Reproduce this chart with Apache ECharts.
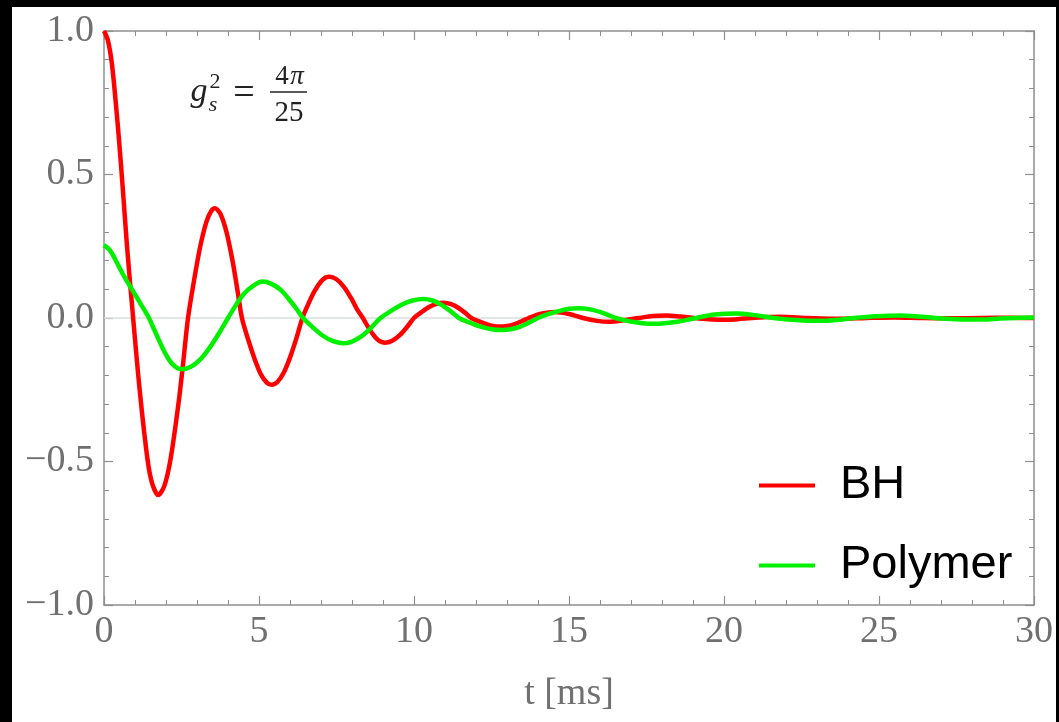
<!DOCTYPE html>
<html>
<head>
<meta charset="utf-8">
<script src="https://cdn.jsdelivr.net/npm/echarts@6/dist/echarts.min.js"></script>
<style>
  html, body { margin: 0; padding: 0; background: #000; width: 1059px; height: 722px; overflow: hidden; }
  #chart { position: absolute; left: 12px; top: 7px; width: 1044px; height: 715px; background: #fff; }
</style>
</head>
<body>
<div id="chart"></div>
<script>
// ---- data (t in ms, value) ----
const seriesNames = ['BH', 'Polymer'];
const bhPoints = [
  [0, 1.0], [0.12, 0.97], [0.25, 0.89], [0.38, 0.75], [0.5, 0.6], [0.62, 0.43], [0.75, 0.24],
  [0.94, 0.0], [1.15, -0.25], [1.4, -0.49], [1.55, -0.575], [1.75, -0.617], [1.95, -0.584],
  [2.15, -0.49], [2.4, -0.30], [2.55, -0.16], [2.71, 0.0], [2.9, 0.128], [3.1, 0.247],
  [3.3, 0.334], [3.45, 0.371], [3.58, 0.382], [3.75, 0.364], [3.95, 0.30], [4.15, 0.197],
  [4.3, 0.10], [4.45, 0.0], [4.65, -0.075], [4.85, -0.14], [5.05, -0.194], [5.25, -0.225],
  [5.41, -0.233], [5.6, -0.222], [5.8, -0.19], [6.0, -0.138], [6.2, -0.073], [6.4, 0.0],
  [6.6, 0.051], [6.8, 0.095], [7.0, 0.127], [7.15, 0.141], [7.27, 0.144], [7.5, 0.135],
  [7.75, 0.107], [8.0, 0.064], [8.15, 0.033], [8.35, 0.0], [8.55, -0.037], [8.75, -0.067],
  [8.9, -0.081], [9.06, -0.086], [9.3, -0.079], [9.55, -0.059], [9.8, -0.028], [10.0, 0.0],
  [10.25, 0.021], [10.5, 0.039], [10.75, 0.05], [10.95, 0.053], [11.2, 0.048], [11.45, 0.034],
  [11.65, 0.018], [11.85, 0.0], [12.1, -0.012], [12.35, -0.022], [12.55, -0.028], [12.77, -0.03],
  [13.0, -0.028], [13.25, -0.021], [13.5, -0.01], [13.7, 0.0], [14.1, 0.015], [14.55, 0.021],
  [15.0, 0.014], [15.45, 0.0], [15.9, -0.01], [16.3, -0.013], [16.75, -0.008], [17.25, 0.0],
  [17.7, 0.007], [18.15, 0.009], [18.6, 0.005], [19.05, 0.0], [19.5, -0.004], [20.0, -0.006],
  [20.45, -0.004], [20.9, 0.0], [21.8, 0.004], [22.7, 0.0], [23.7, -0.003], [24.6, 0.0],
  [25.5, 0.002], [26.4, 0.0], [27.4, -0.001], [28.3, 0.0], [29.2, 0.001], [30, 0.0]
];
const polymerPoints = [
  [0, 0.254], [0.2, 0.235], [0.4, 0.196], [0.65, 0.145], [0.9, 0.1], [1.15, 0.055], [1.3, 0.028],
  [1.45, 0.0], [1.7, -0.06], [1.95, -0.118], [2.2, -0.16], [2.5, -0.179], [2.8, -0.17],
  [3.1, -0.145], [3.4, -0.105], [3.7, -0.055], [4.0, 0.0], [4.25, 0.044], [4.5, 0.083],
  [4.8, 0.111], [5.1, 0.127], [5.4, 0.119], [5.7, 0.098], [6.0, 0.061], [6.2, 0.033],
  [6.42, 0.0], [6.75, -0.034], [7.05, -0.061], [7.35, -0.079], [7.72, -0.088], [8.0, -0.082],
  [8.3, -0.064], [8.6, -0.036], [8.92, 0.0], [9.25, 0.024], [9.6, 0.046], [9.95, 0.061],
  [10.3, 0.066], [10.6, 0.061], [10.9, 0.045], [11.2, 0.022], [11.45, 0.0], [11.8, -0.016],
  [12.15, -0.03], [12.5, -0.039], [12.85, -0.042], [13.15, -0.0385], [13.45, -0.029],
  [13.75, -0.014], [14.0, 0.0], [14.35, 0.014], [14.7, 0.025], [15.0, 0.032], [15.3, 0.034],
  [15.65, 0.031], [16.0, 0.021], [16.25, 0.011], [16.5, 0.0], [16.85, -0.009], [17.2, -0.016],
  [17.45, -0.019], [17.7, -0.02], [18.1, -0.018], [18.5, -0.013], [18.8, -0.007], [19.1, 0.0],
  [19.7, 0.012], [20.4, 0.016], [21.0, 0.01], [21.6, 0.0], [22.3, -0.007], [23.1, -0.01],
  [23.6, -0.007], [24.2, 0.0], [24.9, 0.006], [25.7, 0.009], [26.2, 0.006], [26.8, 0.0],
  [27.5, -0.004], [28.3, -0.005], [28.9, -0.002], [29.4, 0.0], [30, 0.002]
];
const xRange = [0, 30];
const yRange = [-1, 1];
const xLabel = 't [ms]';

// ---- chart ----
const chart = echarts.init(document.getElementById('chart'), null, { renderer: 'canvas' });
const frameColor = '#8f8f8f';
const labelColor = '#707070';
const serif = '"Liberation Serif", "DejaVu Serif", serif';
const ink = '#222';

function axisCommon(showLabel) {
  return {
    axisLine: { show: true, onZero: false, lineStyle: { color: frameColor, width: 1.5 } },
    axisTick: { show: true, inside: true, length: 9, lineStyle: { color: frameColor, width: 1.2 } },
    minorTick: { show: true, splitNumber: 5, length: 5, lineStyle: { color: frameColor, width: 1 } },
    splitLine: { show: false },
    axisLabel: { show: showLabel, color: labelColor, fontFamily: serif, fontSize: 38 }
  };
}

function mathText(x, y, text, font) {
  return { type: 'text', x: x, y: y, silent: true,
    style: { text: text, font: font, fill: ink, textAlign: 'center', textVerticalAlign: 'middle' } };
}

const option = {
  backgroundColor: '#fff',
  animation: false,
  grid: { left: 92, top: 24, right: 22, bottom: 117 },
  xAxis: [
    Object.assign({
      type: 'value', position: 'bottom', min: xRange[0], max: xRange[1], interval: 5,
      name: xLabel, nameLocation: 'middle', nameGap: 70,
      nameTextStyle: { color: labelColor, fontFamily: serif, fontSize: 38 }
    }, axisCommon(true), {
      axisLabel: { show: true, color: labelColor, fontFamily: serif, fontSize: 38, margin: 8 }
    }),
    Object.assign({ type: 'value', position: 'top', min: xRange[0], max: xRange[1], interval: 5 }, axisCommon(false))
  ],
  yAxis: [
    Object.assign({ type: 'value', position: 'left', min: yRange[0], max: yRange[1], interval: 0.5 }, axisCommon(true), {
      axisLabel: {
        show: true, color: labelColor, fontFamily: serif, fontSize: 38, margin: 10,
        formatter: v => v.toFixed(1).replace('-', '\u2212')
      }
    }),
    Object.assign({ type: 'value', position: 'right', min: yRange[0], max: yRange[1], interval: 0.5 }, axisCommon(false))
  ],
  legend: {
    orient: 'vertical', left: 742, top: 450,
    icon: 'rect', itemWidth: 56, itemHeight: 4, itemGap: 33,
    textStyle: { color: '#000', fontFamily: '"Liberation Sans", Arial, sans-serif', fontSize: 47, lineHeight: 46, padding: [0, 0, 0, 20] },
    data: seriesNames
  },
  series: [
    {
      name: seriesNames[0], type: 'line', data: bhPoints, smooth: 0.3, showSymbol: false,
      lineStyle: { color: '#ff0000', width: 4.5 }, itemStyle: { color: '#ff0000' },
      markLine: {
        silent: true, symbol: 'none', label: { show: false }, z: 1,
        lineStyle: { color: '#d8dedb', width: 1.5, type: 'solid' },
        data: [{ yAxis: 0 }]
      }
    },
    {
      name: seriesNames[1], type: 'line', data: polymerPoints, smooth: 0.3, showSymbol: false,
      lineStyle: { color: '#00f000', width: 4.5 }, itemStyle: { color: '#00f000' }
    }
  ],
  graphic: [
    mathText(187, 85, 'g', 'italic 34px ' + serif),
    mathText(203, 75, '2', '22px ' + serif),
    mathText(201, 98, 's', 'italic 22px ' + serif),
    mathText(232, 87, '=', '38px ' + serif),
    mathText(270, 70, '4', '27px ' + serif),
    mathText(285, 70, '\u03c0', 'italic 27px ' + serif),
    { type: 'line', silent: true, shape: { x1: 258, y1: 85, x2: 295, y2: 85 }, style: { stroke: ink, lineWidth: 1.5 } },
    mathText(277, 106, '25', '29px ' + serif)
  ]
};
chart.setOption(option);
</script>
</body>
</html>
